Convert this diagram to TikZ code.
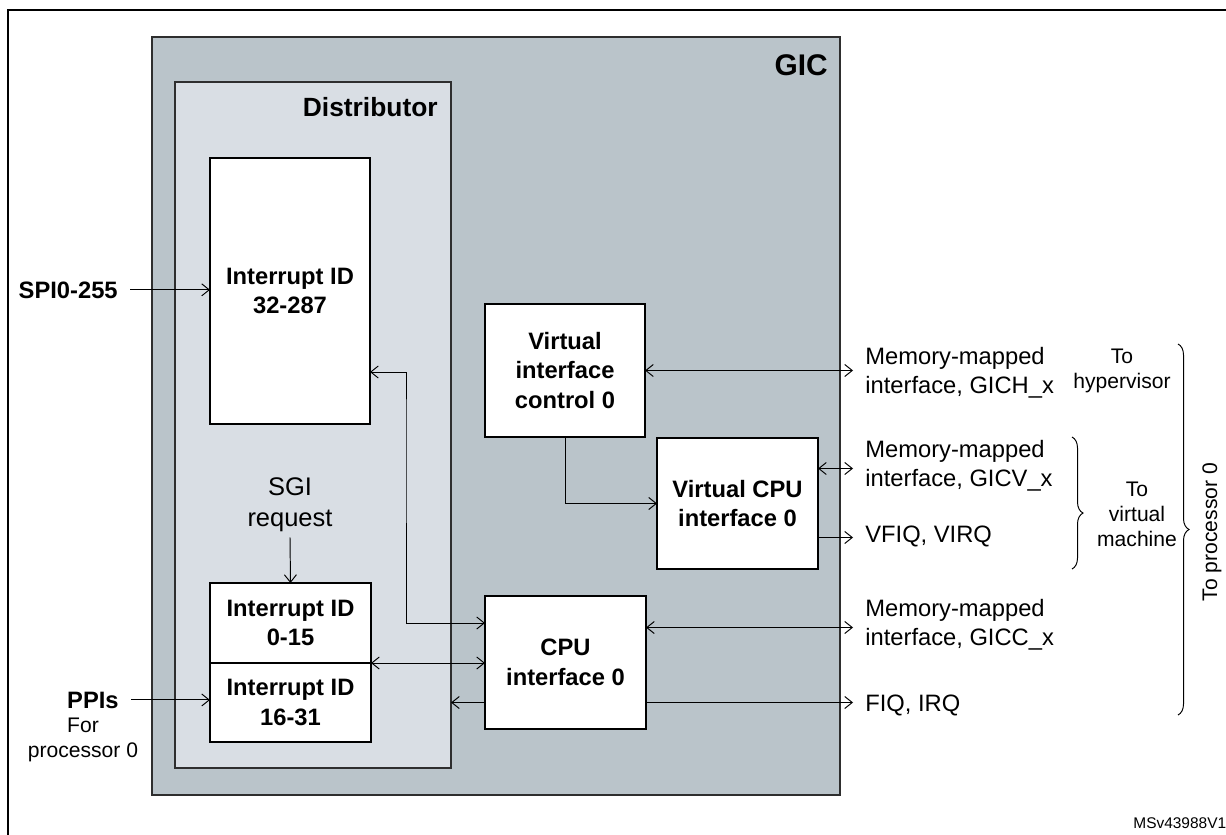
\documentclass[tikz,border=0pt]{standalone}
\usepackage{fontspec}
\setmainfont{Liberation Sans}
\usepackage{xcolor}
\usepackage{tikz}
\usetikzlibrary{arrows.meta,positioning,calc,fit,decorations.pathreplacing}
\definecolor{GicGray}{HTML}{BAC4CA}
\definecolor{DistGray}{HTML}{D9DEE4}
\definecolor{EdgeGray}{HTML}{2E2E2E}

\begin{document}
\begin{tikzpicture}[x=0.2mm,y=-0.2mm,
  >={Straight Barb[length=1.5mm,width=2.4mm]},
  blk/.style 2 args={draw,fill=white,line width=0.4mm,outer sep=0pt,inner sep=0pt,
    minimum width=#1*0.2mm,minimum height=#2*0.2mm,align=center,
    font=\fontsize{13.5}{17}\selectfont\bfseries},
  wire/.style={line width=0.55pt},
  lbl/.style={align=left,inner xsep=2.4mm,inner ysep=0pt,font=\fontsize{13.5}{16.5}\selectfont},
  note/.style={align=center,inner sep=0pt,font=\fontsize{12}{14.2}\selectfont},
  brc/.style={decorate,decoration={brace,amplitude=2.2mm,aspect=#1},line width=0.55pt}]
  \useasboundingbox (0,0) rectangle (1226,834);
  \clip (0,0) rectangle (1226,834);
  \draw[line width=0.45mm] (8,10) rectangle (1240,850);

  % GIC and distributor
  \coordinate (g1) at (152,37);
  \coordinate (g2) at (840,795);
  \node[fit=(g1)(g2),inner sep=0pt,outer sep=0pt,draw=EdgeGray,fill=GicGray,line width=0.3mm] (gic) {};
  \node[anchor=base east,inner sep=0pt,font=\fontsize{17}{20}\selectfont\bfseries] (gictxt) at (828,75) {GIC};
  \coordinate (d1) at (175,82);
  \coordinate (d2) at (451,768);
  \node[fit=(d1)(d2),inner sep=0pt,outer sep=0pt,draw=EdgeGray,fill=DistGray,line width=0.3mm] (dist) {};
  \node[anchor=base east,inner sep=0pt,font=\fontsize{15}{18}\selectfont\bfseries] (disttxt) at (438,117) {Distributor};

  % blocks
  \node[blk={160}{266}] (int32) at (290,291) {Interrupt ID\\32-287};
  \node[blk={161}{80}] (int0) at (290.5,623) {Interrupt ID\\0-15};
  \node[blk={161}{79},below=0pt of int0] (int16) {Interrupt ID\\16-31};
  \node[blk={160}{133}] (vic) at (565,370.5) {Virtual\\interface\\control 0};
  \node[blk={161}{131}] (vcpu) at (737.5,503.5) {Virtual CPU\\interface 0};
  \node[blk={161}{133}] (cpu) at (565.5,662.5) {CPU\\interface 0};

  % inputs
  \node[anchor=base east,inner xsep=2.4mm,inner ysep=0pt,font=\fontsize{13.5}{16.5}\selectfont\bfseries] (spi) at (130,298) {SPI0-255};
  \node[anchor=base east,inner xsep=2.4mm,inner ysep=0pt,font=\fontsize{13.5}{16.5}\selectfont\bfseries] (ppi) at (131,708) {PPIs};
  \node[note,anchor=north] (ppifor) at (83,718) {For\\processor 0};
  \node[note,anchor=north,inner ysep=1mm,font=\fontsize{14.5}{18}\selectfont] (sgi) at (290,472) {SGI\\request};

  % outputs
  \node[lbl,anchor=north west] (mmh) at (853,347) {Memory-mapped\\interface, GICH\_x};
  \node[lbl,anchor=north west] (mmv) at (853,440) {Memory-mapped\\interface, GICV\_x};
  \node[lbl,anchor=base west] (vfiq) at (853,542) {VFIQ, VIRQ};
  \node[lbl,anchor=north west] (mmc) at (853,599) {Memory-mapped\\interface, GICC\_x};
  \node[lbl,anchor=base west] (fiq) at (853,711) {FIQ, IRQ};
  \node[note,anchor=north] (hyp) at (1122,349) {To\\hypervisor};
  \node[note,anchor=north] (vm) at (1137,482) {To\\virtual\\machine};
  \node[note,rotate=90] (proc) at (1212,532) {To processor 0};
  \draw[brc=0.576] (1072,437) -- (1072,569);
  \draw[brc=0.5] (1178,344) -- (1178,715);
  \node[anchor=base west,inner sep=0pt,font=\fontsize{8.8}{10}\selectfont] (docid) at (1133,828) {MSv43988V1};

  % connectors
  \draw[wire,->] (spi.east) -- (spi.east -| int32.west);
  \draw[wire,->] (ppi.east) -- (ppi.east -| int16.west);
  \draw[wire,->] (sgi.south) -- (int0.north);
  \draw[wire,<->] ($(int32.south east)+(0,-52)$) -| ($(dist.east)+(-45,0)$) |- ($(cpu.north west)+(0,27)$);
  \draw[wire,<->] (int0.south east) -- (int0.south east -| cpu.west);
  \draw[wire,->] ($(cpu.west)+(0,40)$) coordinate (c1) -- (c1 -| dist.east);
  \draw[wire,->] (vic.south) |- (vcpu.west);
  \draw[wire,<->] (vic.east) -- (vic.east -| mmh.west);
  \draw[wire,<->] ($(vcpu.east)+(0,-35)$) coordinate (v1) -- (v1 -| mmv.west);
  \draw[wire,->] ($(vcpu.east)+(0,34)$) coordinate (v2) -- (v2 -| vfiq.west);
  \draw[wire,<->] ($(cpu.east)+(0,-35)$) coordinate (c2) -- (c2 -| mmc.west);
  \draw[wire,->] ($(cpu.east)+(0,40)$) coordinate (c3) -- (c3 -| fiq.west);
\end{tikzpicture}
\end{document}
